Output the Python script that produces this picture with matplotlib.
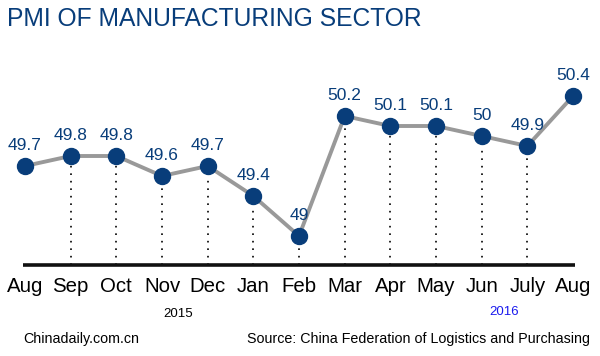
import matplotlib.pyplot as plt
import numpy as np

plt.rcParams['font.family'] = ['Liberation Sans', 'DejaVu Sans']

months = ['Aug', 'Sep', 'Oct', 'Nov', 'Dec', 'Jan', 'Feb',
          'Mar', 'Apr', 'May', 'Jun', 'July', 'Aug']
pmi = [49.7, 49.8, 49.8, 49.6, 49.7, 49.4, 49.0,
       50.2, 50.1, 50.1, 50.0, 49.9, 50.4]
labels = ['49.7', '49.8', '49.8', '49.6', '49.7', '49.4', '49',
          '50.2', '50.1', '50.1', '50', '49.9', '50.4']

BLUE = '#083d7a'
GRAY = '#999999'
BASE = 48.71

fig = plt.figure(figsize=(6, 3.56), dpi=100)
ax = fig.add_axes([0, 0, 1, 1])
# one month ~45.7 px, 0.1 pmi ~10 px
ax.set_xlim(-25 / 45.67, 575 / 45.67)
ax.set_ylim(49.7 - 190 / 100, 49.7 + 166 / 100)
ax.axis('off')

x = np.arange(len(months))

# dotted drop lines
ax.vlines(x[1:-1], BASE, pmi[1:-1], colors='black', linestyles=(0, (1, 3.5)),
          linewidth=1.2, zorder=1)

# baseline
ax.plot([-0.04, 12.04], [BASE, BASE], color='#111111', linewidth=2.6,
        solid_capstyle='butt', zorder=2)

# the line + markers
ax.plot(x, pmi, color=GRAY, linewidth=2.8, zorder=3)
ax.plot(x, pmi, 'o', color=BLUE, markersize=11.5, zorder=4)

for xi, v, lab in zip(x, pmi, labels):
    ax.text(xi, v + 0.2, lab, ha='center', va='center', color=BLUE, fontsize=12.5)

for xi, m in zip(x, months):
    ax.text(xi, 48.49, m, ha='center', va='center', color='black', fontsize=14.7)

ax.text(3.35, 48.22, '2015', ha='center', va='center', color='black', fontsize=9.5)
ax.text(10.5, 48.24, '2016', ha='center', va='center', color='#1a1aee', fontsize=9.5)

fig.text(7 / 600, 1 - 19 / 356, 'PMI OF MANUFACTURING SECTOR', ha='left',
         va='center', color=BLUE, fontsize=17.7)
fig.text(23 / 600, 1 - 339 / 356, 'Chinadaily.com.cn', ha='left',
         va='center', color='black', fontsize=10.3)
fig.text(590 / 600, 1 - 339 / 356,
         'Source: China Federation of Logistics and Purchasing',
         ha='right', va='center', color='black', fontsize=10.3)

fig.savefig('out.png', dpi=100)
